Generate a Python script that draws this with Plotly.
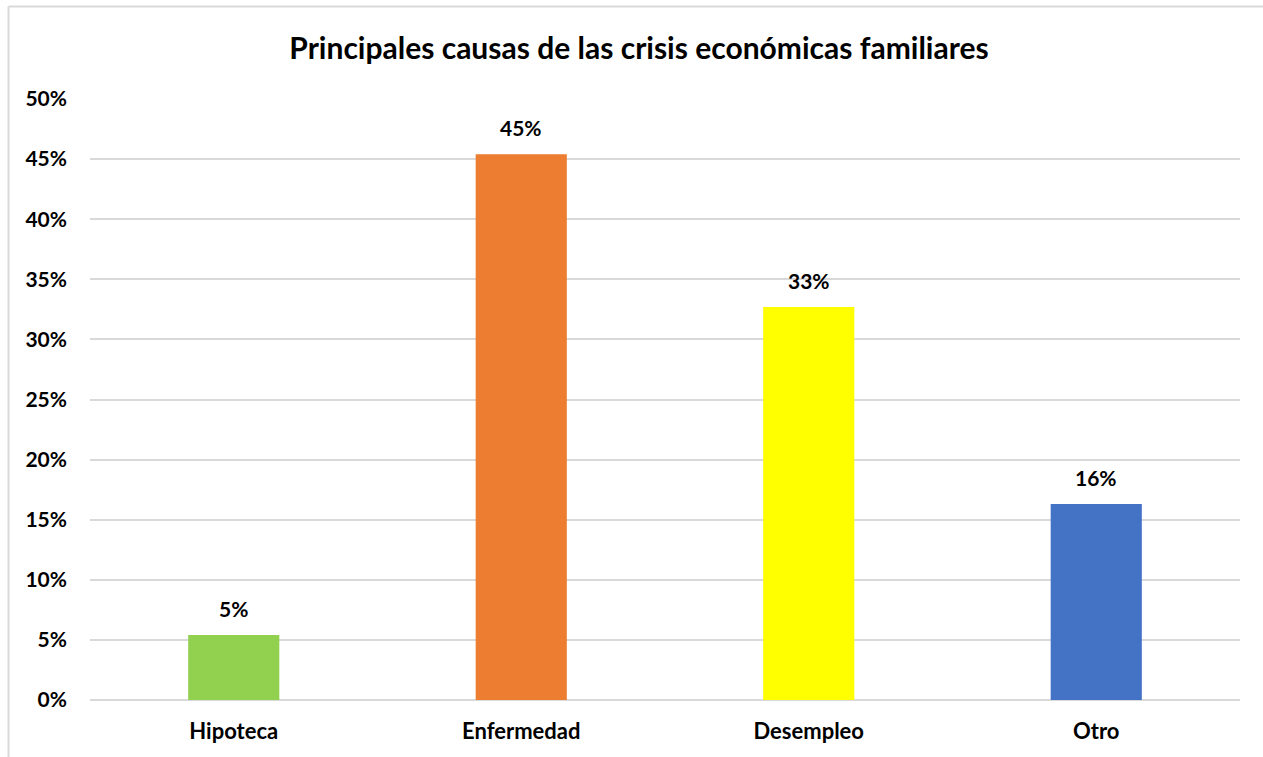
import plotly.graph_objects as go

# Causes of household economic crises (share of responses)
categories = ["Hipoteca", "Enfermedad", "Desempleo", "Otro"]
shares = [0.054, 0.454, 0.327, 0.163]
bar_colors = ["#92D050", "#ED7D31", "#FFFF00", "#4472C4"]
y_ticks = [0, 0.05, 0.10, 0.15, 0.20, 0.25, 0.30, 0.35, 0.40, 0.45, 0.50]
y_tick_labels = ["0%", "5%", "10%", "15%", "20%", "25%", "30%", "35%", "40%", "45%", "50%"]

FONT = "Lato"
LABEL_SIZE = 21
W, H = 1263, 757
ML, MR, MT, MB = 90, 23, 99, 57

fig = go.Figure(
    go.Bar(
        x=categories,
        y=shares,
        marker=dict(color=bar_colors, line=dict(width=0)),
        width=0.317,
        hoverinfo="skip",
    )
)

# value labels above each bar, formatted from the bar value
for cat, val in zip(categories, shares):
    fig.add_annotation(
        x=cat, y=val, xref="x", yref="y",
        text=f"<b>{val:.0%}</b>",
        showarrow=False,
        yanchor="bottom",
        yshift=12,
        font=dict(family=FONT, size=LABEL_SIZE, color="#000000"),
    )

# light outer frame of the chart area (left and top edges)
pw, ph = W - ML - MR, H - MT - MB
x_frame = (8.5 - ML) / pw
y_frame = 1 + (MT - 6.5) / ph
fig.add_shape(type="line", xref="paper", yref="paper",
              x0=x_frame, x1=x_frame, y0=-1, y1=y_frame,
              line=dict(color="#D9D9D9", width=2))
fig.add_shape(type="line", xref="paper", yref="paper",
              x0=x_frame, x1=2, y0=y_frame, y1=y_frame,
              line=dict(color="#D9D9D9", width=2))

fig.update_layout(
    width=W,
    height=H,
    margin=dict(l=ML, r=MR, t=MT, b=MB),
    paper_bgcolor="white",
    plot_bgcolor="white",
    showlegend=False,
    bargap=0.683,
    title=dict(
        text="<b>Principales causas de las crisis económicas familiares</b>",
        x=639 / W,
        xanchor="center",
        y=1 - 48 / H,
        yanchor="middle",
        font=dict(family=FONT, size=30, color="#000000"),
    ),
    xaxis=dict(
        tickvals=categories,
        ticktext=[f"<b>{c}</b>" for c in categories],
        showgrid=False,
        showline=False,
        ticks="",
        ticklabelstandoff=16,
        tickfont=dict(family=FONT, size=22, color="#000000"),
    ),
    yaxis=dict(
        range=[0, 0.5],
        tickvals=y_ticks,
        ticktext=[f"<b>{t}</b>" for t in y_tick_labels],
        showgrid=True,
        gridcolor="#D9D9D9",
        gridwidth=1.5,
        zeroline=True,
        zerolinecolor="#D9D9D9",
        zerolinewidth=1.5,
        showline=False,
        ticks="",
        ticklabelstandoff=22,
        tickfont=dict(family=FONT, size=LABEL_SIZE, color="#000000"),
    ),
)

fig.write_html("out.html")
